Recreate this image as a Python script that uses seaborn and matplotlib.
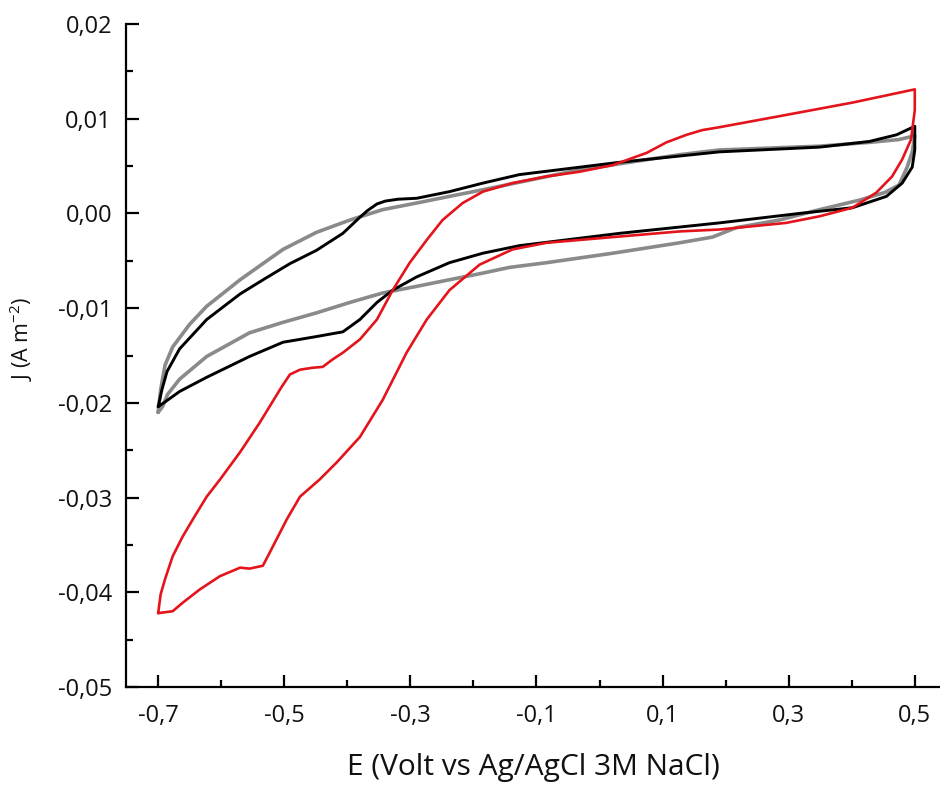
import matplotlib
matplotlib.use("Agg")
import matplotlib.pyplot as plt
import pandas as pd
import seaborn as sns
from matplotlib.ticker import FixedLocator

# ---------------- data ----------------
# gray curve: potential E (V) and current density J (A m^-2), one closed loop
e_gray = [-0.700, -0.696, -0.689, -0.677, -0.650, -0.623, -0.570, -0.502, -0.449, -0.396,
          -0.344, -0.290, -0.238, -0.185, -0.032, 0.127, 0.190, 0.349, 0.428, 0.475, 0.500,
          0.496, 0.488, 0.475, 0.452, 0.412, 0.349, 0.285, 0.217, 0.179, 0.127, 0.021,
          -0.084, -0.143, -0.185, -0.238, -0.290, -0.344, -0.396, -0.449, -0.502, -0.555,
          -0.623, -0.666, -0.685, -0.693, -0.700]
j_gray = [-0.0210, -0.0186, -0.0160, -0.0141, -0.0117, -0.0098, -0.0070, -0.0038, -0.0020, -0.0007,
          0.0004, 0.0011, 0.0018, 0.0025, 0.0046, 0.0062, 0.0067, 0.0071, 0.0075, 0.0078, 0.0082,
          0.0065, 0.0049, 0.0030, 0.0022, 0.0014, 0.0004, -0.0007, -0.0015, -0.0025, -0.0031, -0.0042,
          -0.0052, -0.0057, -0.0063, -0.0070, -0.0077, -0.0084, -0.0094, -0.0105, -0.0115, -0.0126,
          -0.0151, -0.0175, -0.0191, -0.0204, -0.0210]

# black curve
e_black = [-0.700, -0.694, -0.686, -0.666, -0.623, -0.570, -0.531, -0.491, -0.449, -0.407,
           -0.380, -0.368, -0.353, -0.340, -0.320, -0.290, -0.238, -0.185, -0.127, 0.032, 0.190,
           0.349, 0.428, 0.471, 0.500,
           0.500, 0.500, 0.496, 0.480, 0.455, 0.401, 0.317, 0.190, 0.032, -0.127, -0.185,
           -0.238, -0.290, -0.328, -0.353, -0.380, -0.407, -0.449, -0.502, -0.555, -0.623,
           -0.666, -0.689, -0.700]
j_black = [-0.0204, -0.0186, -0.0167, -0.0143, -0.0112, -0.0085, -0.0069, -0.0053, -0.0039, -0.0021,
           -0.0004, 0.0003, 0.0010, 0.0013, 0.0015, 0.0016, 0.0023, 0.0032, 0.0041, 0.0054, 0.0065,
           0.0070, 0.0076, 0.0083, 0.0092,
           0.0078, 0.0067, 0.0049, 0.0032, 0.0018, 0.0006, 0.0000, -0.0010, -0.0021, -0.0034, -0.0042,
           -0.0052, -0.0067, -0.0081, -0.0094, -0.0112, -0.0125, -0.0130, -0.0136, -0.0151, -0.0173,
           -0.0188, -0.0199, -0.0204]

# red curve
e_red = [-0.700, -0.696, -0.689, -0.677, -0.661, -0.645, -0.623, -0.602, -0.570, -0.539,
         -0.505, -0.491, -0.475, -0.456, -0.439, -0.423, -0.407, -0.380, -0.353, -0.328, -0.301,
         -0.274, -0.249, -0.217, -0.185, -0.138, -0.084, -0.032, 0.021, 0.075, 0.106, 0.138,
         0.163, 0.190, 0.296, 0.401, 0.500,
         0.500, 0.494, 0.480, 0.464, 0.439, 0.401, 0.349, 0.296, 0.190, 0.127, 0.021, -0.084,
         -0.138, -0.190, -0.238, -0.274, -0.306, -0.344, -0.380, -0.417, -0.444, -0.475, -0.496,
         -0.523, -0.534, -0.555, -0.570, -0.602, -0.634, -0.661, -0.677, -0.700]
j_red = [-0.0422, -0.0402, -0.0386, -0.0362, -0.0341, -0.0323, -0.0299, -0.0281, -0.0252, -0.0221,
         -0.0184, -0.0170, -0.0165, -0.0163, -0.0162, -0.0154, -0.0147, -0.0133, -0.0112, -0.0081,
         -0.0052, -0.0028, -0.0007, 0.0011, 0.0023, 0.0032, 0.0039, 0.0044, 0.0051, 0.0064, 0.0075,
         0.0083, 0.0088, 0.0091, 0.0104, 0.0117, 0.0131,
         0.0109, 0.0078, 0.0057, 0.0039, 0.0022, 0.0006, -0.0003, -0.0010, -0.0017, -0.0019, -0.0025, -0.0031,
         -0.0038, -0.0054, -0.0081, -0.0112, -0.0147, -0.0197, -0.0236, -0.0263, -0.0281, -0.0299, -0.0323,
         -0.0358, -0.0372, -0.0375, -0.0374, -0.0383, -0.0397, -0.0411, -0.0420, -0.0422]

x_ticks = [-0.7, -0.5, -0.3, -0.1, 0.1, 0.3, 0.5]
x_tick_labels = ["-0,7", "-0,5", "-0,3", "-0,1", "0,1", "0,3", "0,5"]
x_minor = [-0.6, -0.4, -0.2, 0.0, 0.2, 0.4]
y_ticks = [-0.05, -0.04, -0.03, -0.02, -0.01, 0.00, 0.01, 0.02]
y_tick_labels = ["-0,05", "-0,04", "-0,03", "-0,02", "-0,01", "0,00", "0,01", "0,02"]
y_minor = [-0.045, -0.035, -0.025, -0.015, -0.005, 0.005, 0.015]

x_label = "E (Volt vs Ag/AgCl 3M NaCl)"
y_label = "J (A m$^{-2}$)"

# ---------------- style ----------------
sns.set_theme(style="ticks")
plt.rcParams["font.family"] = ["Open Sans", "DejaVu Sans"]
plt.rcParams["mathtext.default"] = "regular"
plt.rcParams["axes.unicode_minus"] = False

fig = plt.figure(figsize=(9.4, 7.87), dpi=100)
ax = fig.add_axes([126 / 940, 100 / 787, 814 / 940, 663 / 787])

curves = [
    (e_gray, j_gray, "#8a8a8a", 2.6),
    (e_black, j_black, "#000000", 2.1),
    (e_red, j_red, "#e3141b", 1.9),
]
for e, j, col, lw in curves:
    df = pd.DataFrame({"E": e, "J": j})
    sns.lineplot(data=df, x="E", y="J", sort=False, estimator=None, color=col,
                 linewidth=lw, ax=ax)

ax.set_xlim(-0.751, 0.54)
ax.set_ylim(-0.05, 0.02)

ax.xaxis.set_major_locator(FixedLocator(x_ticks))
ax.xaxis.set_minor_locator(FixedLocator(x_minor))
ax.set_xticklabels(x_tick_labels)
ax.yaxis.set_major_locator(FixedLocator(y_ticks))
ax.yaxis.set_minor_locator(FixedLocator(y_minor))
ax.set_yticklabels(y_tick_labels)

sns.despine(ax=ax)
for s in ["left", "bottom"]:
    ax.spines[s].set_linewidth(1.6)
    ax.spines[s].set_color("black")

ax.tick_params(axis="both", which="major", direction="in", length=9, width=1.6,
               color="black", labelsize=17, labelcolor="#111111")
ax.tick_params(axis="both", which="minor", direction="in", length=4.8, width=1.6,
               color="black")
ax.tick_params(axis="x", which="major", pad=12.5)
ax.tick_params(axis="y", which="major", pad=10)

ax.set_xlabel(x_label, fontsize=21.5, color="#111111", labelpad=18)
ax.set_ylabel(y_label, fontsize=15.5, color="#111111")
ax.yaxis.set_label_coords(-0.112, 0.525)
ax.grid(False)

fig.savefig("out.png", dpi=100, facecolor="white")
